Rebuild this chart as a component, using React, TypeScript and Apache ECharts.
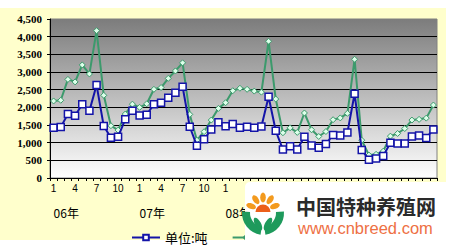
import React, { useEffect, useRef } from "react";
import * as echarts from "echarts";

const years = ["06年", "07年", "08年", "09年", "10年"];
const monthTicks = ["1", "2", "3", "4", "5", "6", "7", "8", "9", "10", "11", "12"];
const pointCount = 54;
// labels past this index are hidden by the watermark in the reference
const visibleLabelCount = 27;

const tonnes = [
  1420, 1440, 1810, 1760, 2090, 1900, 2630, 1470, 1140, 1165, 1660, 1900,
  1770, 1790, 2090, 2130, 2270, 2415, 2585, 1450, 910, 1095, 1375, 1580,
  1465, 1525, 1420, 1450, 1425, 1460, 2300, 1335, 805, 900, 805, 1165,
  920, 855, 965, 1220, 1200, 1285, 2385, 795, 520, 550, 625, 995,
  975, 975, 1175, 1200, 1135, 1375,
];

const values = [
  2180, 2200, 2790, 2720, 3200, 2945, 4170, 2340, 1480, 1355, 1810, 2090,
  2000, 2100, 2510, 2560, 2820, 3030, 3260, 1800, 1070, 1310, 1640, 1970,
  2130, 2470, 2540, 2510, 2460, 2430, 3870, 2235, 1280, 1420, 1290, 1840,
  1365, 1175, 1315, 1650, 1700, 1830, 3360, 1070, 650, 670, 760, 1185,
  1260, 1400, 1640, 1660, 1695, 2065,
];

const seriesNames = ["单位:吨", "单位:万美元"];

export default function App() {
  const ref = useRef<HTMLDivElement>(null);
  useEffect(() => {
    if (!ref.current) return;
    const chart = echarts.init(ref.current, undefined, { renderer: "svg" });
    const cats = Array.from({ length: pointCount }, (_, i) => monthTicks[i % 12]);
    const yearCats = Array.from({ length: pointCount }, (_, i) =>
      i % 12 === 0 && i < visibleLabelCount ? years[i / 12] : ""
    );
    const blue = "#1414A8";
    const green = "#3C9A6C";
    const petal = (a: number) => {
      const rad = (a * Math.PI) / 180;
      const d = 12.5;
      return {
        type: "ellipse",
        x: 263 - d * Math.sin(rad),
        y: 210 - d * Math.cos(rad),
        rotation: rad,
        shape: { cx: 0, cy: 0, rx: 2.8, ry: 5 },
        style: { fill: "#F39A1E" },
        z: 101,
      };
    };
    chart.setOption({
      animation: false,
      backgroundColor: "transparent",
      grid: {
        left: 50,
        top: 19,
        width: 387,
        height: 159,
        show: true,
        borderColor: "#808080",
        borderWidth: 1,
        backgroundColor: {
          type: "linear",
          x: 0,
          y: 0,
          x2: 0,
          y2: 1,
          colorStops: [
            { offset: 0, color: "#7c7c7c" },
            { offset: 1, color: "#ffffff" },
          ],
        },
      },
      legend: {
        left: 126,
        top: 226,
        itemWidth: 28,
        itemHeight: 7,
        itemGap: 24,
        textStyle: { fontSize: 13, color: "#000", fontFamily: "Noto Sans CJK SC" },
        data: seriesNames,
      },
      xAxis: [
        {
          type: "category",
          data: cats,
          boundaryGap: true,
          axisLine: { lineStyle: { color: "#000", width: 1 } },
          axisTick: { show: true, interval: 0, length: 3, lineStyle: { color: "#000" } },
          axisLabel: {
            interval: (i: number) => i % 3 === 0 && i < visibleLabelCount,
            margin: 5,
            fontSize: 10,
            color: "#000",
            fontFamily: "Liberation Sans",
          },
        },
        {
          type: "category",
          data: yearCats,
          position: "bottom",
          boundaryGap: true,
          axisLine: { show: false },
          axisTick: { show: false },
          axisLabel: {
            interval: 0,
            margin: 28,
            align: "left",
            fontSize: 12,
            color: "#000",
            fontFamily: "Noto Sans CJK SC",
          },
        },
      ],
      yAxis: {
        type: "value",
        min: 0,
        max: 4500,
        interval: 500,
        axisLine: { show: true, lineStyle: { color: "#000" } },
        axisTick: { show: true, length: 3, lineStyle: { color: "#000" } },
        splitLine: { show: true, showMaxLine: false, lineStyle: { color: "#000", width: 1 } },
        axisLabel: {
          margin: 8,
          fontSize: 11,
          fontWeight: "bold",
          color: "#000",
          fontFamily: "Liberation Serif",
          formatter: (v: number) => v.toLocaleString("en-US"),
        },
      },
      series: [
        {
          name: seriesNames[0],
          type: "line",
          data: tonnes,
          z: 4,
          symbol: "rect",
          symbolSize: 7,
          showAllSymbol: true,
          showSymbol: true,
          lineStyle: { color: blue, width: 2 },
          itemStyle: { color: "#ffffff", borderColor: blue, borderWidth: 1.5 },
        },
        {
          name: seriesNames[1],
          type: "line",
          data: values,
          z: 3,
          symbol: "diamond",
          symbolSize: 6,
          showAllSymbol: true,
          showSymbol: true,
          lineStyle: { color: green, width: 2 },
          itemStyle: { color: "#DDFFEA", borderColor: green, borderWidth: 1 },
        },
      ],
      graphic: [
        {
          type: "rect",
          shape: { x: 245, y: 182, width: 209, height: 64, r: [5, 0, 0, 0] },
          style: { fill: "#ffffff" },
          z: 100,
        },
        petal(0),
        petal(35),
        petal(-35),
        petal(72),
        petal(-72),
        {
          type: "sector",
          shape: { cx: 263, cy: 212, r: 7.5, r0: 0, startAngle: Math.PI, endAngle: Math.PI * 2 },
          style: { fill: "#EC5F1A" },
          z: 101,
        },
        {
          type: "sector",
          shape: { cx: 264, cy: 213, r: 22, r0: 14, startAngle: Math.PI * 0.55, endAngle: Math.PI * 1.02 },
          style: { fill: "#1E9A5C" },
          z: 101,
        },
        {
          type: "sector",
          shape: { cx: 262, cy: 213, r: 22, r0: 14, startAngle: -Math.PI * 0.02, endAngle: Math.PI * 0.45 },
          style: { fill: "#1E9A5C" },
          z: 101,
        },
        {
          type: "ellipse",
          x: 258,
          y: 224,
          rotation: 0.5,
          shape: { cx: 0, cy: 0, rx: 3, ry: 7 },
          style: { fill: "#1E9A5C" },
          z: 101,
        },
        {
          type: "ellipse",
          x: 268,
          y: 224,
          rotation: -0.5,
          shape: { cx: 0, cy: 0, rx: 3, ry: 7 },
          style: { fill: "#1E9A5C" },
          z: 101,
        },
        {
          type: "text",
          x: 296,
          y: 206,
          style: {
            text: "中国特种养殖网",
            fontSize: 20,
            fontWeight: "bold",
            fontFamily: "Noto Sans CJK SC",
            fill: "#2a2a2a",
            verticalAlign: "middle",
            align: "left",
          },
          z: 102,
        },
        {
          type: "text",
          x: 298,
          y: 228,
          style: {
            text: "www.cnbreed.com",
            fontSize: 16.5,
            fontFamily: "Liberation Sans",
            fill: "#EE7044",
            verticalAlign: "middle",
            align: "left",
          },
          z: 102,
        },
      ],
    });
    return () => chart.dispose();
  }, []);

  return (
    <div style={{ position: "fixed", left: 0, top: 0, width: 454, height: 246, background: "#ffffff" }}>
      <div style={{ position: "absolute", left: 0, top: 8, width: 446, height: 232, background: "#FFFFCC" }} />
      <div ref={ref} style={{ position: "absolute", left: 0, top: 0, width: 454, height: 246 }} />
    </div>
  );
}
